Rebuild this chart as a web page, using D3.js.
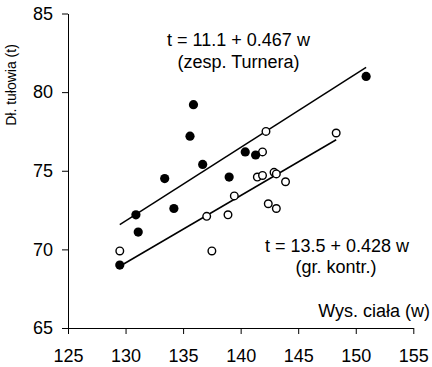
<!DOCTYPE html>
<html>
<head>
<meta charset="utf-8">
<script src="https://cdn.jsdelivr.net/npm/d3@7"></script>
<style>
  html, body { margin: 0; padding: 0; background: #fff; }
  svg { display: block; }
  text { font-family: "Liberation Sans", Arial, sans-serif; fill: #000; }
</style>
</head>
<body>
<svg id="chart" width="432" height="367"></svg>
<script>
// Turner syndrome group (filled)
const turnerW = [129.5, 130.9, 131.1, 133.4, 134.2, 135.6, 135.9, 136.7, 139.0, 140.4, 141.3, 150.9];
const turnerT = [69.0, 72.2, 71.1, 74.5, 72.6, 77.2, 79.2, 75.4, 74.6, 76.2, 76.0, 81.0];
// Control group (open)
const controlW = [129.5, 137.05, 137.5, 138.9, 139.45, 141.45, 141.9, 141.9, 142.2, 142.4, 142.9, 143.1, 143.1, 143.9, 148.3];
const controlT = [69.9, 72.1, 69.9, 72.2, 73.4, 74.6, 74.7, 76.2, 77.5, 72.9, 74.9, 74.8, 72.6, 74.3, 77.4];
// Regression lines
const turnerFit = { a: 11.1, b: 0.467 };
const controlFit = { a: 13.5, b: 0.428 };
const xTicks = [125, 130, 135, 140, 145, 150, 155];
const yTicks = [65, 70, 75, 80, 85];
const xDomain = [125, 155];
const yDomain = [65, 85];

const svg = d3.select("#chart");
const mLeft = 68, mRight = 413.3, mTop = 13.5, mBottom = 328;
const x = d3.scaleLinear().domain(xDomain).range([mLeft, mRight]);
const y = d3.scaleLinear().domain(yDomain).range([mBottom, mTop]);

const yAxis = svg.append("g").attr("transform", `translate(${mLeft},0)`)
  .call(d3.axisLeft(y).tickValues(yTicks).tickSize(6).tickSizeOuter(0).tickPadding(9));
const xAxis = svg.append("g").attr("transform", `translate(0,${mBottom})`)
  .call(d3.axisBottom(x).tickValues(xTicks).tickSize(6).tickSizeOuter(0).tickPadding(15));
[xAxis, yAxis].forEach(g => {
  g.selectAll("text").attr("font-size", 18).attr("font-family", "Liberation Sans, Arial, sans-serif").attr("fill", "#000");
  g.selectAll("line").attr("stroke", "#000");
  g.select(".domain").attr("stroke", "#000");
});

function fitLine(ws, fit) {
  const w0 = d3.min(ws), w1 = d3.max(ws);
  svg.append("line")
    .attr("x1", x(w0)).attr("y1", y(fit.a + fit.b * w0))
    .attr("x2", x(w1)).attr("y2", y(fit.a + fit.b * w1))
    .attr("stroke", "#000").attr("stroke-width", 1.5);
}
fitLine(turnerW, turnerFit);
fitLine(controlW, controlFit);

svg.append("g").selectAll("circle").data(controlW.map((w, i) => [w, controlT[i]]))
  .join("circle")
  .attr("cx", d => x(d[0])).attr("cy", d => y(d[1])).attr("r", 3.8)
  .attr("fill", "#fff").attr("stroke", "#000").attr("stroke-width", 1.4);
svg.append("g").selectAll("circle").data(turnerW.map((w, i) => [w, turnerT[i]]))
  .join("circle")
  .attr("cx", d => x(d[0])).attr("cy", d => y(d[1])).attr("r", 4.6)
  .attr("fill", "#000");

function label(tx, ty, str, anchor, size) {
  svg.append("text").attr("x", tx).attr("y", ty).attr("text-anchor", anchor)
    .attr("font-size", size).text(str);
}
label(238.5, 46, "t = 11.1 + 0.467 w", "middle", 18);
label(238.5, 68, "(zesp. Turnera)", "middle", 18);
label(337, 251.5, "t = 13.5 + 0.428 w", "middle", 18);
label(336, 273, "(gr. kontr.)", "middle", 18);
label(430, 317, "Wys. ciała (w)", "end", 18);
svg.append("text").attr("transform", "translate(16,85) rotate(-90)")
  .attr("text-anchor", "middle").attr("font-size", 14).text("Dł. tułowia (t)");
</script>
</body>
</html>
